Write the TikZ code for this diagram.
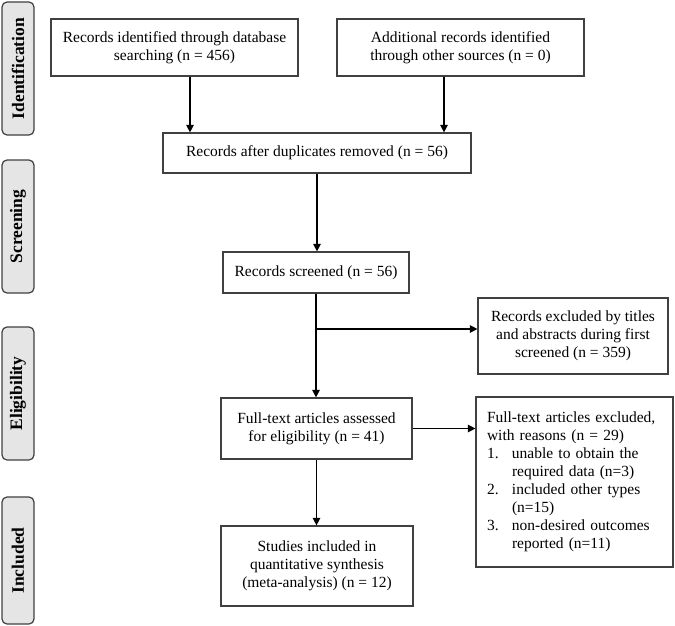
\documentclass[tikz,border=0pt]{standalone}
\usepackage{fontspec}
\setmainfont{Liberation Serif}
\usepackage{tikz}
\usetikzlibrary{arrows.meta}
\usetikzlibrary{shapes, calc}

\begin{document}
\begin{tikzpicture}[x=1pt,y=-1pt]
\tikzset{font=\fontsize{15.5}{18}\selectfont}
\tikzset{box/.style={draw=black!75, line width=1.2pt, align=center, inner sep=0pt}}
\tikzset{stage/.style={draw=black!75, fill=black!10, line width=1.2pt, rounded corners=5pt, rotate=90, minimum height=32pt, inner sep=0pt, font=\fontsize{17.5}{18}\selectfont\bfseries}}
\tikzset{arr/.style={draw, line width=1.3pt, -{Triangle[length=7.5pt,width=7.5pt]}}}
\useasboundingbox (0,0) rectangle (675,626);

% stages
\node[stage, minimum width=133pt] (sid) at (18,68.5) {Identification};
\node[stage, minimum width=133pt] (sscr) at (18,226.5) {Screening};
\node[stage, minimum width=133pt] (selig) at (18,393.5) {Eligibility};
\node[stage, minimum width=127pt] (sinc) at (18,560.5) {Included};

% boxes
\node[box, minimum width=247pt, minimum height=57pt] (db) at (174.5,47.5) {Records identified through database\\searching (n = 456)};
\node[box, minimum width=247pt, minimum height=57pt] (other) at (460.5,47.5) {Additional records identified\\through other sources (n = 0)};
\node[box, minimum width=308pt, minimum height=40pt] (dup) at (317,153) {Records after duplicates removed (n = 56)};
\node[box, minimum width=186pt, minimum height=41pt] (scr) at (316,272.5) {Records screened (n = 56)};
\node[box, minimum width=190pt, minimum height=76pt] (excl) at (573,336) {Records excluded by titles\\and abstracts during first\\screened (n = 359)};
\node[box, minimum width=191pt, minimum height=61pt] (full) at (316.5,428.5) {Full-text articles assessed\\for eligibility (n = 41)};
\node[box, minimum height=170pt, text width=175pt, inner xsep=11pt, align=left] (reas) at (574.5,482) {Full-text articles excluded,\\with reasons (n = 29)\\\makebox[25pt][l]{1.}unable to obtain the\\\hspace*{25pt}required data (n=3)\\\makebox[25pt][l]{2.}included other types\\\hspace*{25pt}(n=15)\\\makebox[25pt][l]{3.}non-desired outcomes\\\hspace*{25pt}reported (n=11)};
\node[box, minimum width=192pt, minimum height=80pt] (incl) at (317,566) {Studies included in\\quantitative synthesis\\(meta-analysis) (n = 12)};

% connectors
\draw[arr] ([xshift=15.5pt]db.south) -- ([xshift=15.5pt]db.south |- dup.north);
\draw[arr] ([xshift=-16.5pt]other.south) -- ([xshift=-16.5pt]other.south |- dup.north);
\draw[arr] (dup.south) -- (dup.south |- scr.north);
\draw[arr] (scr.south) -- (scr.south |- full.north);
\coordinate (br) at (316,329);
\draw[arr] (br) -- (br -| excl.west);
\draw[arr] (full.east) -- (full.east -| reas.west);
\draw[arr] (full.south) -- (full.south |- incl.north);
\end{tikzpicture}
\end{document}
